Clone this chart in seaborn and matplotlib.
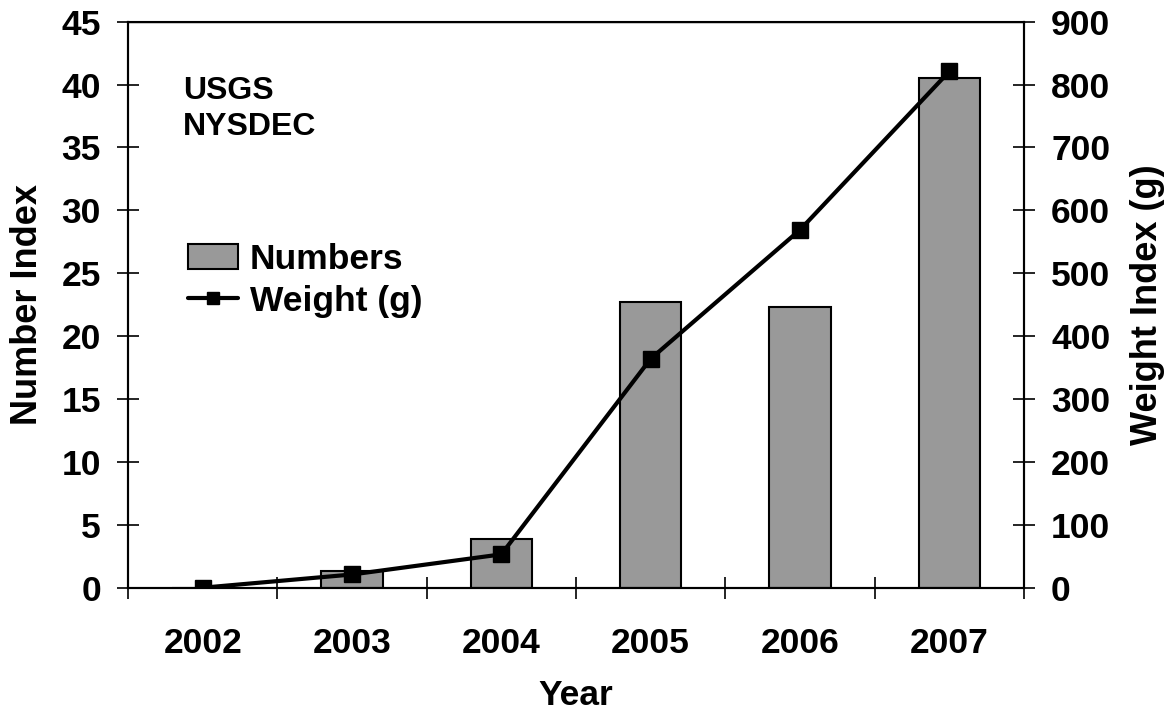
import matplotlib
matplotlib.use("Agg")
import matplotlib.pyplot as plt
import seaborn as sns
import pandas as pd
from matplotlib.patches import Patch
from matplotlib.lines import Line2D

years = ["2002", "2003", "2004", "2005", "2006", "2007"]
numbers = [0.0, 1.3, 3.9, 22.7, 22.3, 40.5]
weight = [0, 21, 53, 364, 569, 821]

sns.set_style("white")
plt.rcParams["font.family"] = ["Liberation Sans", "DejaVu Sans"]
plt.rcParams["font.weight"] = "bold"
plt.rcParams["text.color"] = "black"
plt.rcParams["axes.labelcolor"] = "black"
plt.rcParams["xtick.color"] = "black"
plt.rcParams["ytick.color"] = "black"

df = pd.DataFrame({"Year": years, "Numbers": numbers, "Weight": weight})

fig = plt.figure(figsize=(11.66, 7.13), dpi=100)
ax = fig.add_axes([128/1166, 1-587.7/713, (1024-128)/1166, (587.7-21.7)/713])

sns.barplot(data=df, x="Year", y="Numbers", color="#999999", edgecolor="black",
            linewidth=1.5, width=0.41, saturation=1, ax=ax)
ax.set_xlim(-0.5, 5.5)
ax.set_ylim(0, 45)
ax.set_yticks(range(0, 46, 5))

ax2 = ax.twinx()
ax2.plot(range(len(years)), weight, color="black", lw=3, marker="s", markersize=12)
ax2.set_ylim(0, 900)
ax2.set_yticks(range(0, 901, 100))

fs = 25.5
for a in (ax, ax2):
    for s in a.spines.values():
        s.set_color("black")
        s.set_linewidth(1.5)
ax.spines["top"].set_linewidth(1.0)

ax.tick_params(axis="y", direction="inout", length=16, width=1.2, labelsize=fs, pad=11.5,
               left=True, colors="black")
ax2.tick_params(axis="y", direction="inout", length=16, width=1.2, labelsize=fs, pad=11.5,
                right=True, colors="black")
ax.set_xticks(range(len(years)))
ax.set_xticklabels(years)
ax.set_xticks([i - 0.5 for i in range(len(years) + 1)], minor=True)
ax.tick_params(axis="x", which="major", length=0, labelsize=fs, pad=28, colors="black")
ax.tick_params(axis="x", which="minor", direction="inout", length=16, width=1.2, bottom=True,
               colors="black")
for lab in ax.get_xticklabels() + ax.get_yticklabels() + ax2.get_yticklabels():
    lab.set_fontweight("bold")

ax.set_xlabel("Year", fontsize=fs, fontweight="bold", color="black")
ax.set_ylabel("Number Index", fontsize=26, fontweight="bold", color="black")
ax2.set_ylabel("Weight Index (g)", fontsize=26, fontweight="bold", color="black")
ax.xaxis.set_label_coords((576-128)/896, (587.7-679)/566)
ax.yaxis.set_label_coords((45-128)/896, 0.5)
ax2.yaxis.set_label_coords((1130-128)/896, 0.5)

ax.text((183-128)/896, (587.7-76)/566, "USGS\nNYSDEC", transform=ax.transAxes, fontsize=23,
        fontweight="bold", va="top", ha="left", linespacing=1.28, color="black")

handles = [Patch(facecolor="#999999", edgecolor="black", linewidth=1.5),
           Line2D([0], [0], color="black", lw=3, marker="s", markersize=9)]
leg = ax.legend(handles, ["Numbers", "Weight (g)"], loc="upper left",
                bbox_to_anchor=((188-128)/896, (587.7-243)/566), frameon=False,
                prop={"size": fs, "weight": "bold"}, handlelength=1.4,
                handletextpad=0.35, labelspacing=0.25, borderaxespad=0, borderpad=0)
for t in leg.get_texts():
    t.set_color("black")

fig.savefig("out.png", dpi=100)
